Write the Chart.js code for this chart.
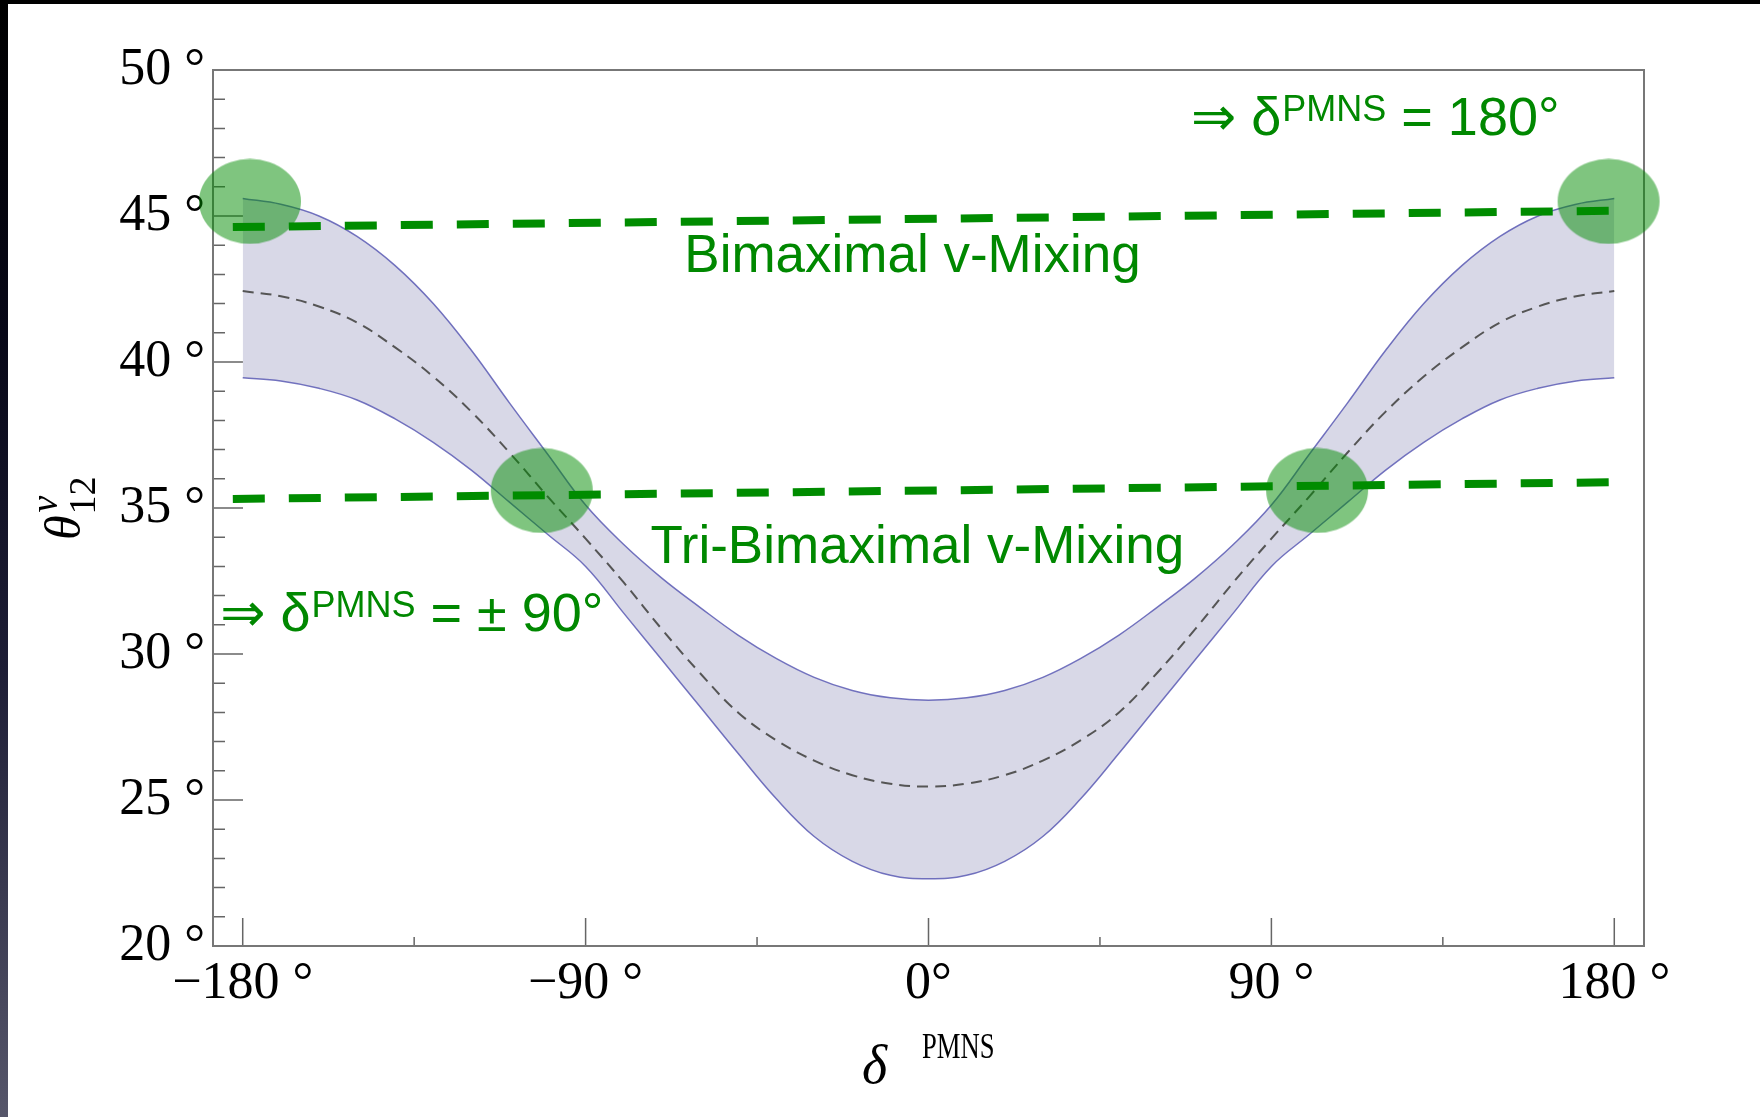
<!DOCTYPE html>
<html>
<head>
<meta charset="utf-8">
<script src="https://cdn.jsdelivr.net/npm/chart.js@4.4.1/dist/chart.umd.min.js"></script>
<style>
html, body { margin: 0; padding: 0; background: #fff; }
canvas { display: block; }
</style>
</head>
<body>
<canvas id="myChart" width="1760" height="1117"></canvas>
<script>
const ctx = document.getElementById('myChart').getContext('2d');

// values (degrees)
const deltaPMNS = [-180, -170, -160, -150, -140, -130, -120, -110, -100, -90, -80, -70, -60, -50, -40, -30, -20, -10, 0,
                   10, 20, 30, 40, 50, 60, 70, 80, 90, 100, 110, 120, 130, 140, 150, 160, 170, 180];
const thetaUpper = [45.6, 45.4, 45.0, 44.3, 43.3, 42.0, 40.4, 38.6, 36.85, 35.1, 33.75, 32.6, 31.6, 30.65, 29.85, 29.2, 28.75, 28.5, 28.42,
                    28.5, 28.75, 29.2, 29.85, 30.65, 31.6, 32.6, 33.75, 35.1, 36.85, 38.6, 40.4, 42.0, 43.3, 44.3, 45.0, 45.4, 45.6];
const thetaLower = [39.46, 39.35, 39.1, 38.7, 38.05, 37.25, 36.3, 35.2, 34.1, 33.0, 31.4, 29.8, 28.2, 26.6, 25.05, 23.75, 22.9, 22.42, 22.3,
                    22.42, 22.9, 23.75, 25.05, 26.6, 28.2, 29.8, 31.4, 33.0, 34.1, 35.2, 36.3, 37.25, 38.05, 38.7, 39.1, 39.35, 39.46];
const thetaCentral = [42.43, 42.25, 41.9, 41.35, 40.5, 39.5, 38.3, 36.9, 35.4, 33.95, 32.45, 30.85, 29.35, 28.0, 27.05, 26.35, 25.85, 25.56, 25.46,
                      25.56, 25.85, 26.35, 27.05, 28.0, 29.35, 30.85, 32.45, 33.95, 35.4, 36.9, 38.3, 39.5, 40.5, 41.35, 41.9, 42.25, 42.43];

// hand drawn green overlays
const bimaxDelta = [-182.6, 178.6];
const bimaxTheta = [44.62, 45.18];
const triBimaxDelta = [-182.6, 178.6];
const triBimaxTheta = [35.31, 35.88];
const markDelta = [-178.1, -101.5, 102.0, 178.5];
const markTheta = [45.5, 35.6, 35.6, 45.5];

// ticks
const xMajorTicks = [-180, -90, 0, 90, 180];
const xMinorTicks = [-135, -45, 45, 135];
const xTickLabels = ['\u2212180 °', '\u221290 °', '0°', '90 °', '180 °'];
const yMajorTicks = [20, 25, 30, 35, 40, 45, 50];
const yMinorTicks = [21, 22, 23, 24, 26, 27, 28, 29, 31, 32, 33, 34, 36, 37, 38, 39, 41, 42, 43, 44, 46, 47, 48, 49];
const yTickLabels = ['20 °', '25 °', '30 °', '35 °', '40 °', '45 °', '50 °'];

// green notes: [delta, theta] of left end of baseline
const noteDelta = [68.9, -64.1, -73.0, -185.9];
const noteTheta = [47.78, 43.08, 33.1, 30.79];

const GREEN = '#008800';
const SANS = "'Liberation Sans', 'DejaVu Sans', sans-serif";
const SERIF = "'Liberation Serif', 'DejaVu Serif', serif";

const pts = (xs, ys) => xs.map((x, i) => ({ x: x, y: ys[i] }));

// soft green ellipse used as point marker
const blob = document.createElement('canvas');
blob.width = 104;
blob.height = 86;
const bctx = blob.getContext('2d');
bctx.fillStyle = 'rgba(0, 140, 0, 0.5)';
bctx.beginPath();
bctx.ellipse(52, 43, 51, 42.5, 0, 0, Math.PI * 2);
bctx.fill();

const pageBg = {
    id: 'pageBg',
    beforeDraw(chart) {
        const c = chart.ctx;
        c.save();
        c.fillStyle = '#fff';
        c.fillRect(0, 0, chart.width, chart.height);
        c.fillStyle = '#000';
        c.fillRect(0, 0, chart.width, 4);
        const g = c.createLinearGradient(0, 0, 0, chart.height);
        g.addColorStop(0, '#000');
        g.addColorStop(0.3, '#080818');
        g.addColorStop(0.6, '#1e1e36');
        g.addColorStop(1, '#56566a');
        c.fillStyle = g;
        c.fillRect(0, 0, 8, chart.height);
        c.restore();
    }
};

const frame = {
    id: 'frame',
    beforeDatasetsDraw(chart) {
        const c = chart.ctx;
        const a = chart.chartArea;
        const xs = chart.scales.x, ys = chart.scales.y;
        c.save();
        c.strokeStyle = '#666';
        c.lineWidth = 1.5;
        c.beginPath();
        xMajorTicks.forEach(v => { const p = xs.getPixelForValue(v); c.moveTo(p, a.bottom); c.lineTo(p, a.bottom - 28); });
        xMinorTicks.forEach(v => { const p = xs.getPixelForValue(v); c.moveTo(p, a.bottom); c.lineTo(p, a.bottom - 9); });
        yMajorTicks.forEach(v => { const p = ys.getPixelForValue(v); c.moveTo(a.left, p); c.lineTo(a.left + 30, p); });
        yMinorTicks.forEach(v => { const p = ys.getPixelForValue(v); c.moveTo(a.left, p); c.lineTo(a.left + 12, p); });
        c.stroke();
        c.strokeStyle = '#777';
        c.lineWidth = 2;
        c.strokeRect(a.left, a.top, a.right - a.left, a.bottom - a.top);
        c.restore();
    },
    afterDraw(chart) {
        const c = chart.ctx;
        const xs = chart.scales.x, ys = chart.scales.y;
        c.save();
        c.fillStyle = '#000';
        c.textBaseline = 'alphabetic';
        c.textAlign = 'left';

        // y title: theta^nu_12, rotated
        c.save();
        c.translate(80, 540);
        c.rotate(-Math.PI / 2);
        c.font = 'italic 50px ' + SERIF;
        c.fillText('θ', 0, 0);
        const tw = c.measureText('θ').width;
        c.font = '38px ' + SERIF;
        c.fillText('12', tw + 1, 15);
        c.font = 'italic 38px ' + SERIF;
        c.fillText('ν', tw + 3, -23);
        c.restore();

        // x title: delta^PMNS
        c.font = 'italic 54px ' + SERIF;
        c.fillText('δ', 862, 1083);
        c.save();
        c.translate(922, 1058);
        c.scale(0.74, 1);
        c.font = '36px ' + SERIF;
        c.fillText('PMNS', 0, 0);
        c.restore();

        // green notes
        c.fillStyle = GREEN;
        const arrowNote = (i, tail) => {
            let x = xs.getPixelForValue(noteDelta[i]);
            const y = ys.getPixelForValue(noteTheta[i]);
            c.font = '54px ' + SANS;
            c.fillText('\u21D2 \u03B4', x, y);
            x += c.measureText('\u21D2 \u03B4').width + 1;
            c.font = '36px ' + SANS;
            c.fillText('PMNS', x, y - 14);
            x += c.measureText('PMNS').width;
            c.font = '54px ' + SANS;
            c.fillText(tail, x, y);
        };
        arrowNote(0, ' = 180°');
        arrowNote(3, ' = \u00B1 90°');
        c.font = '53px ' + SANS;
        c.fillText('Bimaximal v-Mixing', xs.getPixelForValue(noteDelta[1]), ys.getPixelForValue(noteTheta[1]));
        c.fillText('Tri-Bimaximal v-Mixing', xs.getPixelForValue(noteDelta[2]), ys.getPixelForValue(noteTheta[2]));
        c.restore();
    }
};

const myChart = new Chart(ctx, {
    type: 'line',
    data: {
        datasets: [
            {
                data: pts(deltaPMNS, thetaUpper),
                borderColor: 'rgba(90, 90, 180, 0.85)',
                borderWidth: 1.5,
                backgroundColor: '#d8d8e7',
                fill: 1,
                pointRadius: 0,
                tension: 0.4,
                order: 4,
            },
            {
                data: pts(deltaPMNS, thetaLower),
                borderColor: 'rgba(90, 90, 180, 0.85)',
                borderWidth: 1.5,
                fill: false,
                pointRadius: 0,
                tension: 0.4,
                order: 3,
            },
            {
                data: pts(deltaPMNS, thetaCentral),
                borderColor: '#555',
                borderWidth: 2,
                borderDash: [11, 7],
                fill: false,
                pointRadius: 0,
                tension: 0.4,
                order: 2,
            },
            {
                data: pts(markDelta, markTheta),
                showLine: false,
                pointStyle: blob,
                pointRadius: 40,
                clip: false,
                order: 1,
            },
            {
                data: pts(bimaxDelta, bimaxTheta),
                borderColor: '#008c00',
                borderWidth: 8,
                borderDash: [32, 24],
                borderCapStyle: 'butt',
                pointRadius: 0,
                fill: false,
                order: 0,
            },
            {
                data: pts(triBimaxDelta, triBimaxTheta),
                borderColor: '#008c00',
                borderWidth: 8,
                borderDash: [32, 24],
                borderCapStyle: 'butt',
                pointRadius: 0,
                fill: false,
                order: 0,
            },
        ],
    },
    options: {
        responsive: false,
        animation: false,
        layout: { padding: { left: 0, top: 70, right: 116, bottom: 0 } },
        plugins: {
            legend: { display: false },
            tooltip: { enabled: false },
        },
        scales: {
            x: {
                type: 'linear',
                min: -187.8,
                max: 187.8,
                grid: { display: false, drawTicks: false },
                border: { display: false },
                afterBuildTicks: s => { s.ticks = xMajorTicks.map(v => ({ value: v })); },
                afterFit: s => { s.height = 171; },
                ticks: {
                    autoSkip: false,
                    maxRotation: 0,
                    padding: 7,
                    color: '#000',
                    font: { family: SERIF, size: 52 },
                    callback: v => xTickLabels[xMajorTicks.indexOf(v)],
                },
            },
            y: {
                type: 'linear',
                min: 20,
                max: 50,
                grid: { display: false, drawTicks: false },
                border: { display: false },
                afterBuildTicks: s => { s.ticks = yMajorTicks.map(v => ({ value: v })); },
                afterFit: s => { s.width = 213; },
                ticks: {
                    autoSkip: false,
                    padding: 8,
                    color: '#000',
                    font: { family: SERIF, size: 52 },
                    callback: v => yTickLabels[yMajorTicks.indexOf(v)],
                },
            },
        },
    },
    plugins: [pageBg, frame],
});
</script>
</body>
</html>
